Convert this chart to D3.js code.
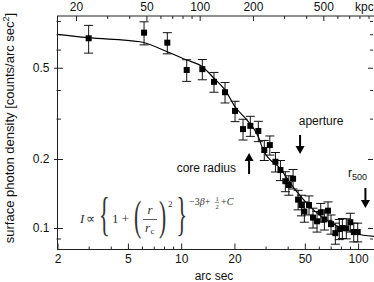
<!DOCTYPE html>
<html><head><meta charset="utf-8">
<script src="https://cdn.jsdelivr.net/npm/d3@7"></script>
<style>html,body{margin:0;padding:0;background:#fff;overflow:hidden}</style>
</head><body><svg id="c" width="374" height="282"></svg>
<script>
// ---- data ----
const radius = [3.0, 6.17, 8.35, 10.75, 13.17, 15.33, 17.7, 20.16, 22.37, 24.6, 27.3, 29.5, 31.7, 34.1, 36.4, 38.8, 40.6, 42.9, 45.8, 47.8, 49.7, 52.8, 55.6, 58.6, 61.5, 64.5, 67.6, 70.3, 74.4, 78.3, 81.5, 85.8, 90.4, 94.5, 99.5];
const density = [0.672, 0.711, 0.643, 0.489, 0.493, 0.434, 0.391, 0.324, 0.270, 0.279, 0.265, 0.219, 0.230, 0.1945, 0.179, 0.160, 0.154, 0.164, 0.133, 0.126, 0.118, 0.126, 0.111, 0.107, 0.117, 0.109, 0.119, 0.104, 0.095, 0.099, 0.100, 0.0997, 0.106, 0.096, 0.096];
const densityErr = [0.093, 0.082, 0.068, 0.053, 0.05, 0.043, 0.04, 0.033, 0.028, 0.028, 0.027, 0.022, 0.022, 0.019, 0.018, 0.016, 0.015, 0.016, 0.013, 0.013, 0.012, 0.012, 0.011, 0.011, 0.011, 0.011, 0.011, 0.010, 0.010, 0.010, 0.010, 0.010, 0.010, 0.009, 0.009];
const fitRadius = [2.0, 2.96, 5.85, 8.35, 10.75, 13.17, 15.33, 17.7, 20.16, 23.5, 27.3, 29.1, 36.2, 45.0, 55.9, 69.4, 86.3, 107, 123];
const fitDensity = [0.699, 0.676, 0.649, 0.587, 0.540, 0.505, 0.450, 0.400, 0.338, 0.296, 0.250, 0.219, 0.182, 0.144, 0.120, 0.106, 0.098, 0.093, 0.092];
const xMajorTicks = [2, 5, 10, 20, 50, 100];
const xMinorTicks = [3, 4, 6, 7, 8, 9, 30, 40, 60, 70, 80, 90];
const yMajorTicks = [0.1, 0.2, 0.5];
const yMinorTicks = [0.09, 0.3, 0.4, 0.6, 0.7, 0.8];
const kpcMajorTicks = [20, 50, 100, 200, 500];
const kpcMinorTicks = [30, 40, 60, 70, 80, 90, 300, 400, 600, 700, 800, 900];
const kpcPerArcsec = 7.86;
const apertureRadius = 47;
const coreRadius = 24.2;
const r500Radius = 110;

// ---- layout ----
const L = 57.5, R = 374, T = 16, B = 249.5;
const xDomain = [2, 123];
const yDomain = [0.0806, 0.8406];

const svg = d3.select('#c');
const x = d3.scaleLog().domain(xDomain).range([L, R]);
const y = d3.scaleLog().domain(yDomain).range([B, T]);
const xk = d3.scaleLog().domain(xDomain.map(d => d * kpcPerArcsec)).range([L, R]);

const axisColor = '#222';
const font = "'Liberation Sans', Arial, Helvetica, sans-serif";

// frame
svg.append('rect').attr('x', L).attr('y', T).attr('width', R - L + 2).attr('height', B - T)
  .attr('fill', 'none').attr('stroke', axisColor).attr('stroke-width', 1);

const g = svg.append('g');

// bottom axis (ticks inward)
const bottomAxis = d3.axisBottom(x).tickValues(xMajorTicks).tickSizeInner(-6).tickSizeOuter(0).tickFormat(d3.format('d')).tickPadding(5);
g.append('g').attr('transform', `translate(0,${B})`).call(bottomAxis);
const bMin = d3.axisBottom(x).tickValues(xMinorTicks).tickSizeInner(-3).tickSizeOuter(0).tickFormat('');
g.append('g').attr('transform', `translate(0,${B})`).call(bMin);

// top axis kpc
const topAxis = d3.axisTop(xk).tickValues(kpcMajorTicks).tickSizeInner(-5).tickSizeOuter(0).tickFormat(d3.format('d')).tickPadding(5);
g.append('g').attr('transform', `translate(0,${T})`).call(topAxis);
const tMin = d3.axisTop(xk).tickValues(kpcMinorTicks).tickSizeInner(-3).tickSizeOuter(0).tickFormat('');
g.append('g').attr('transform', `translate(0,${T})`).call(tMin);

// left axis
const leftAxis = d3.axisLeft(y).tickValues(yMajorTicks).tickSizeInner(4).tickSizeOuter(0).tickFormat(d3.format('.1f')).tickPadding(4);
const lAx = g.append('g').attr('transform', `translate(${L},0)`).call(leftAxis);
lAx.selectAll('.tick line').attr('x2', 5.5).attr('x1', -3.5);
const lMin = d3.axisLeft(y).tickValues(yMinorTicks).tickSizeOuter(0).tickFormat('');
const lmAx = g.append('g').attr('transform', `translate(${L},0)`).call(lMin);
lmAx.selectAll('.tick line').attr('x1', -1).attr('x2', 3.5);

// right axis ticks
const rightAxis = d3.axisRight(y).tickValues(yMajorTicks).tickSizeInner(-5).tickSizeOuter(0).tickFormat('');
g.append('g').attr('transform', `translate(${R - 1},0)`).call(rightAxis);
const rMin = d3.axisRight(y).tickValues(yMinorTicks).tickSizeInner(-3).tickSizeOuter(0).tickFormat('');
g.append('g').attr('transform', `translate(${R - 1},0)`).call(rMin);

g.selectAll('.domain').remove();
g.selectAll('.tick line').attr('stroke', axisColor);
g.selectAll('.tick text').attr('font-family', font).attr('font-size', 12).attr('fill', '#111');

// kpc label
svg.append('text').attr('x', 355).attr('y', 11).attr('font-family', font).attr('font-size', 12).attr('fill', '#111').text('kpc');

// axis titles
svg.append('text').attr('x', 214).attr('y', 280).attr('text-anchor', 'middle')
  .attr('font-family', font).attr('font-size', 12).attr('fill', '#111').text('arc sec');
const yl = svg.append('text').attr('transform', 'translate(13.5,128) rotate(-90)').attr('text-anchor', 'middle')
  .attr('font-family', font).attr('font-size', 13).attr('fill', '#111');
yl.append('tspan').text('surface photon density  [counts/arc sec');
yl.append('tspan').attr('dy', -5).attr('font-size', 9).text('2');
yl.append('tspan').attr('dy', 5).text(']');

// clip for plot content
svg.append('clipPath').attr('id', 'clip').append('rect').attr('x', L).attr('y', T).attr('width', R - L).attr('height', B - T);
const plot = svg.append('g').attr('clip-path', 'url(#clip)');

// fit curve
const fitData = fitRadius.map((r, i) => [r, fitDensity[i]]);
plot.append('path').datum(fitData)
  .attr('d', d3.line().x(d => x(d[0])).y(d => y(d[1])).curve(d3.curveMonotoneX))
  .attr('fill', 'none').attr('stroke', '#000').attr('stroke-width', 1.2);

// error bars
const pts = radius.map((r, i) => ({ r, v: density[i], e: densityErr[i] }));
const eb = plot.append('g').attr('stroke', '#111').attr('stroke-width', 1);
pts.forEach(p => {
  const cx = x(p.r), y1 = y(p.v + p.e), y2 = y(p.v - p.e);
  eb.append('line').attr('x1', cx).attr('x2', cx).attr('y1', y1).attr('y2', y2);
  eb.append('line').attr('x1', cx - 4.5).attr('x2', cx + 4.5).attr('y1', y1).attr('y2', y1);
  eb.append('line').attr('x1', cx - 4.5).attr('x2', cx + 4.5).attr('y1', y2).attr('y2', y2);
});
// markers
plot.append('g').selectAll('rect').data(pts).join('rect')
  .attr('x', d => x(d.r) - 3).attr('y', d => y(d.v) - 3).attr('width', 6).attr('height', 6).attr('fill', '#000');

// annotations
function arrow(xr, yTail, yHead) {
  const cx = x(xr);
  const dir = yHead > yTail ? 1 : -1;
  const headLen = 8, hw = 4.5;
  svg.append('line').attr('x1', cx).attr('x2', cx).attr('y1', yTail).attr('y2', yHead - dir * headLen)
    .attr('stroke', '#000').attr('stroke-width', 2);
  svg.append('path').attr('d', `M${cx - hw},${yHead - dir * headLen}L${cx + hw},${yHead - dir * headLen}L${cx},${yHead}Z`).attr('fill', '#000');
}
arrow(apertureRadius, 135, 154);
arrow(coreRadius, 174, 153);
arrow(r500Radius, 188, 208);

svg.append('text').attr('x', x(apertureRadius) + 21).attr('y', 125).attr('text-anchor', 'middle')
  .attr('font-family', font).attr('font-size', 12).attr('fill', '#111').text('aperture');
svg.append('text').attr('x', 236).attr('y', 172).attr('text-anchor', 'end')
  .attr('font-family', font).attr('font-size', 12).attr('fill', '#111').text('core radius');
const r5 = svg.append('text').attr('x', 348).attr('y', 176.5)
  .attr('font-family', font).attr('font-size', 12).attr('fill', '#111');
r5.append('tspan').text('r');
r5.append('tspan').attr('dy', 3.5).attr('font-size', 9).text('500');

// formula
const fm = svg.append('g').attr('fill', '#333').attr('font-family', "'Liberation Serif', 'Times New Roman', serif");
const ftxt = (tx, ty, s, size, opts = {}) => {
  const t = fm.append('text').attr('x', tx).attr('y', ty).attr('font-size', size).text(s);
  if (opts.italic) t.attr('font-style', 'italic');
  if (opts.anchor) t.attr('text-anchor', opts.anchor);
  return t;
};
const big = (tx, ty, s, size, sx) => fm.append('text').attr('transform', `translate(${tx},${ty}) scale(${sx},1)`).attr('font-size', size).text(s);
ftxt(80, 223, 'I', 13, { italic: true });
ftxt(86, 223, '∝', 13);
big(99, 230, '{', 46, 0.48);
ftxt(112, 223, '1 +', 13);
big(134, 230, '(', 43, 0.5);
ftxt(150, 214, 'r', 13, { italic: true, anchor: 'middle' });
fm.append('line').attr('x1', 143).attr('x2', 157).attr('y1', 219.5).attr('y2', 219.5).attr('stroke', '#333').attr('stroke-width', 0.8);
ftxt(145, 232, 'r', 13, { italic: true });
ftxt(150.5, 234, 'c', 9);
big(159, 230, ')', 43, 0.5);
ftxt(168, 207, '2', 9);
big(176.5, 230, '}', 46, 0.48);
const ex = fm.append('text').attr('x', 189).attr('y', 205).attr('font-size', 10);
ex.append('tspan').text('−3');
ex.append('tspan').attr('font-style', 'italic').text('β');
ex.append('tspan').text('+');
ftxt(217, 201, '1', 6.5, { anchor: 'middle' });
ftxt(217, 208.5, '2', 6.5, { anchor: 'middle' });
fm.append('line').attr('x1', 215).attr('x2', 219).attr('y1', 202.5).attr('y2', 202.5).attr('stroke', '#333').attr('stroke-width', 0.5);
const ex2 = fm.append('text').attr('x', 221).attr('y', 205).attr('font-size', 10);
ex2.append('tspan').text('+');
ex2.append('tspan').attr('font-style', 'italic').text('C');
</script></body></html>
